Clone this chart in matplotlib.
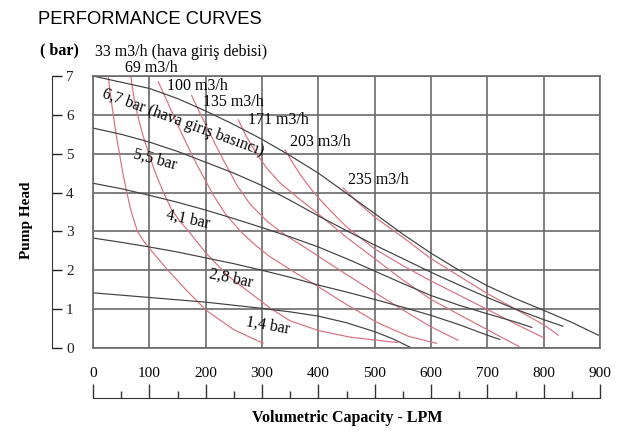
import matplotlib
matplotlib.use('Agg')
import matplotlib.pyplot as plt

# air inlet pressure curves (black), LPM vs bar
p67_x = [0, 100, 150, 200, 250, 300, 350, 400, 450, 500, 550, 600, 650, 700, 750, 800, 850, 897]
p67_y = [7.0, 6.68, 6.42, 6.1, 5.75, 5.37, 4.95, 4.5, 3.98, 3.46, 2.93, 2.44, 2.0, 1.6, 1.27, 0.97, 0.66, 0.33]
p55_x = [0, 50, 100, 150, 200, 250, 300, 350, 400, 450, 500, 550, 600, 650, 700, 750, 800, 834]
p55_y = [5.66, 5.5, 5.3, 5.06, 4.78, 4.5, 4.18, 3.8, 3.4, 3.02, 2.65, 2.3, 1.95, 1.62, 1.3, 1.0, 0.73, 0.56]
p41_x = [0, 50, 100, 150, 200, 250, 300, 350, 400, 450, 500, 550, 600, 650, 700, 750, 779]
p41_y = [4.24, 4.1, 3.93, 3.75, 3.55, 3.33, 3.1, 2.86, 2.6, 2.3, 1.98, 1.66, 1.35, 1.1, 0.88, 0.67, 0.53]
p28_x = [0, 50, 100, 150, 200, 250, 300, 350, 400, 450, 500, 550, 600, 650, 700, 722]
p28_y = [2.83, 2.72, 2.6, 2.47, 2.32, 2.17, 2.0, 1.82, 1.62, 1.44, 1.25, 1.05, 0.84, 0.6, 0.33, 0.22]
p14_x = [0, 50, 100, 150, 200, 250, 300, 350, 400, 450, 500, 530, 563]
p14_y = [1.42, 1.36, 1.3, 1.24, 1.18, 1.1, 1.02, 0.93, 0.82, 0.65, 0.42, 0.25, 0.02]

# air consumption curves (red)
q33_x = [27, 31, 36, 41, 47, 53, 60, 68, 79, 90, 101, 130, 165, 200, 250, 302]
q33_y = [7.0, 6.5, 6.0, 5.5, 5.0, 4.5, 4.0, 3.5, 3.0, 2.75, 2.55, 2.05, 1.5, 0.98, 0.47, 0.12]
q69_x = [67, 72, 79, 88, 99, 111, 125, 140, 155, 170, 200, 240, 279, 315, 350, 400, 456, 540]
q69_y = [7.0, 6.5, 6.0, 5.5, 5.0, 4.5, 4.0, 3.55, 3.25, 3.0, 2.45, 1.85, 1.42, 1.02, 0.7, 0.45, 0.28, 0.14]
q100_x = [116, 130, 150, 168, 185, 200, 213, 235, 262, 288, 314, 360, 403, 450, 504, 560, 610]
q100_y = [6.85, 6.4, 5.75, 5.2, 4.7, 4.3, 3.95, 3.45, 3.0, 2.65, 2.35, 1.93, 1.55, 1.12, 0.66, 0.3, 0.12]
q135_x = [175, 188, 200, 215, 231, 255, 279, 310, 340, 375, 415, 460, 500, 550, 598, 648]
q135_y = [6.5, 6.1, 5.75, 5.3, 4.85, 4.2, 3.7, 3.25, 2.92, 2.6, 2.22, 1.8, 1.43, 0.98, 0.56, 0.2]
q171_x = [258, 272, 290, 310, 332, 365, 400, 450, 500, 550, 600, 650, 700, 756]
q171_y = [5.87, 5.45, 5.0, 4.6, 4.25, 3.85, 3.45, 2.85, 2.3, 1.75, 1.25, 0.86, 0.47, 0.04]
q203_x = [341, 355, 370, 385, 398, 425, 450, 500, 550, 598, 650, 699, 750, 802]
q203_y = [5.1, 4.75, 4.42, 4.13, 3.9, 3.48, 3.12, 2.55, 2.12, 1.74, 1.36, 1.0, 0.62, 0.25]
q235_x = [444, 470, 500, 550, 600, 650, 700, 750, 800, 826]
q235_y = [4.12, 3.75, 3.37, 2.85, 2.3, 1.85, 1.4, 1.0, 0.6, 0.33]

pressure_curves = [(p67_x, p67_y), (p55_x, p55_y), (p41_x, p41_y),
                   (p28_x, p28_y), (p14_x, p14_y)]
flow_curves = [(q33_x, q33_y), (q69_x, q69_y), (q100_x, q100_y),
               (q135_x, q135_y), (q171_x, q171_y), (q203_x, q203_y),
               (q235_x, q235_y)]

flow_labels = ['33 m3/h (hava giriş debisi)', '69 m3/h', '100 m3/h', '135 m3/h',
               '171 m3/h', '203 m3/h', '235 m3/h']
flow_lab_x = [3, 57, 131, 195, 275, 350, 453]
flow_lab_y = [7.62, 7.2, 6.74, 6.33, 5.86, 5.3, 4.32]

pressure_labels = ['6,7 bar (hava giriş basıncı)', '5,5 bar', '4,1 bar', '2,8 bar', '1,4 bar']
press_lab_x = [160, 110, 169, 245, 311]
press_lab_y = [5.81, 4.86, 3.31, 1.8, 0.58]
press_lab_rot = [-20, -15, -12, -12, -10]

x_ticks = list(range(0, 901, 100))
y_ticks = list(range(0, 8))

serif = 'Liberation Serif'
grid_c = '#6a6a6a'
W, H = 623, 443

fig = plt.figure(figsize=(W / 100, H / 100), dpi=100)
ax = fig.add_axes([93 / W, 1 - 348 / H, 507 / W, 272 / H])
ax.set_xlim(0, 900)
ax.set_ylim(0, 7)
ax.set_xticks(x_ticks)
ax.set_yticks(y_ticks)
ax.grid(True, color=grid_c, lw=1.2)
ax.set_axisbelow(True)
ax.tick_params(length=0, labelleft=False)
ax.tick_params(axis='x', pad=13.5, labelsize=11)
for lab in ax.get_xticklabels():
    lab.set_family(serif)
for sp in ax.spines.values():
    sp.set_color(grid_c)
    sp.set_linewidth(1.2)

for xs, ys in flow_curves:
    ax.plot(xs, ys, color='#d8707f', lw=0.85)
for xs, ys in pressure_curves:
    ax.plot(xs, ys, color='#404040', lw=0.85)

for t, x, y in zip(flow_labels, flow_lab_x, flow_lab_y):
    ax.text(x, y, t, family=serif, fontsize=11.5, ha='left', va='center', clip_on=False)
for t, x, y, r in zip(pressure_labels, press_lab_x, press_lab_y, press_lab_rot):
    ax.text(x, y, t, family=serif, fontsize=11.5, ha='center', va='center',
            rotation=r, rotation_mode='anchor')

# separate y scale on the left
ax_y = fig.add_axes([40 / W, 1 - 348 / H, 12 / W, 272 / H])
ax_y.set_facecolor('none')
ax_y.set_ylim(0, 7)
ax_y.set_yticks(y_ticks)
ax_y.set_xticks([])
for k in ['left', 'top', 'bottom']:
    ax_y.spines[k].set_visible(False)
ax_y.spines['right'].set_color('#333333')
ax_y.yaxis.tick_right()
ax_y.tick_params(axis='y', direction='out', length=7, width=1, pad=3,
                 labelsize=11, colors='#222222')
for lab in ax_y.get_yticklabels():
    lab.set_family(serif)

# separate x scale bar below the tick labels
ax_x = fig.add_axes([93 / W, 1 - 398 / H, 507 / W, 20 / H])
ax_x.set_facecolor('none')
ax_x.set_xlim(0, 900)
ax_x.set_xticks(x_ticks)
ax_x.set_xticks(list(range(50, 900, 100)), minor=True)
ax_x.set_yticks([])
for k in ['left', 'top', 'right']:
    ax_x.spines[k].set_visible(False)
ax_x.spines['bottom'].set_color('#333333')
ax_x.tick_params(axis='x', which='major', direction='in', length=10, width=1,
                 labelbottom=False, color='#333333')
ax_x.tick_params(axis='x', which='minor', direction='in', length=5, width=1,
                 color='#333333')

fig.text(38 / W, 1 - 20 / H, 'PERFORMANCE CURVES', family='Liberation Sans',
         fontsize=13.2, ha='left', va='center')
fig.text(40 / W, 1 - 50 / H, '( bar)', family=serif, fontsize=11.5,
         fontweight='bold', ha='left', va='center')
fig.text(27 / W, 1 - 220 / H, 'Pump Head', family=serif, fontsize=11,
         fontweight='bold', rotation=90, ha='center', va='center')
fig.text(347 / W, 1 - 418 / H, 'Volumetric Capacity - LPM', family=serif,
         fontsize=11.5, fontweight='bold', ha='center', va='center')

fig.savefig('out.png', dpi=100)
